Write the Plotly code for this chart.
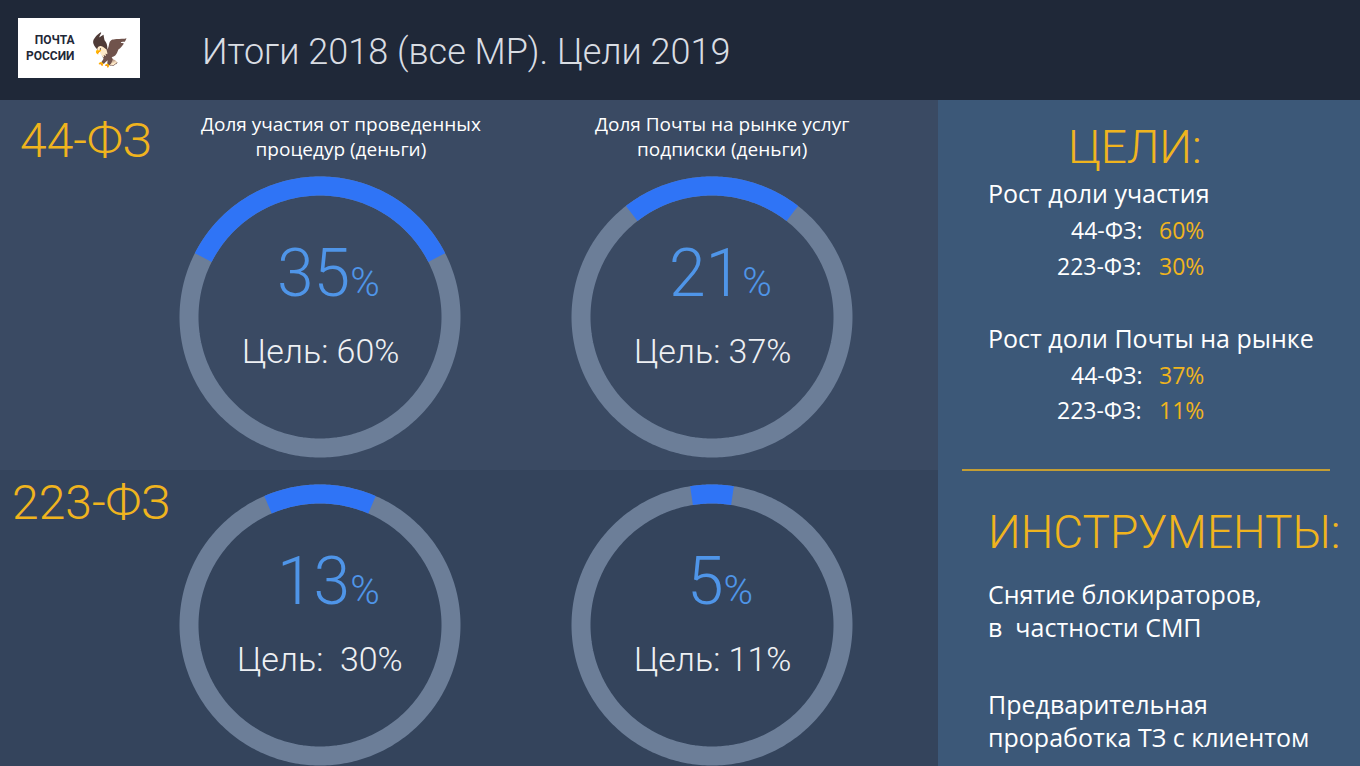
import numpy as np
import plotly.graph_objects as go

W, H = 1360, 766
actual = [35, 21, 13, 5]
targets = ["Цель: 60%", "Цель: 37%", "Цель:  30%", "Цель: 11%"]
chart_titles = ["Доля участия от проведенных<br>процедур (деньги)", "Доля Почты на рынке услуг<br>подписки (деньги)"]
laws = ["44-ФЗ", "223-ФЗ"]
goal_lines = [("Рост доли участия", None), ("44-ФЗ:", "60%"), ("223-ФЗ:", "30%"),
              ("Рост доли Почты на рынке", None), ("44-ФЗ:", "37%"), ("223-ФЗ:", "11%")]
tools = ["Снятие блокираторов,<br>в  частности СМП", "Предварительная<br>проработка ТЗ с клиентом"]

centers = [(320, 317), (712, 317), (320, 625), (712, 625)]
R = 131
GOLD = "#f0b41e"
LIGHT = "Roboto Light, Roboto"
fig = go.Figure()

shapes = [
    dict(type="rect", x0=0, x1=W, y0=0, y1=H, fillcolor="#2b3a52", line_width=0, layer="below"),
    dict(type="rect", x0=0, x1=938, y0=100, y1=470, fillcolor="#3a4a63", line_width=0, layer="below"),
    dict(type="rect", x0=0, x1=938, y0=470, y1=H, fillcolor="#34445c", line_width=0, layer="below"),
    dict(type="rect", x0=938, x1=W, y0=100, y1=H, fillcolor="#3c5878", line_width=0, layer="below"),
    dict(type="rect", x0=0, x1=W, y0=0, y1=100, fillcolor="#1f2838", line_width=0, layer="below"),
    dict(type="rect", x0=18, x1=140, y0=18, y1=78, fillcolor="white", line_width=0),
    dict(type="line", x0=962, x1=1330, y0=470, y1=470, line=dict(color=GOLD, width=1.5)),
]

for (cx, cy), v in zip(centers, actual):
    t = np.linspace(0, 2*np.pi, 361)
    fig.add_trace(go.Scatter(x=cx + R*np.sin(t), y=cy - R*np.cos(t), mode="lines",
                             line=dict(color="#6c7e98", width=19, simplify=False), hoverinfo="skip", showlegend=False))
    a = v/100*2*np.pi
    t = np.linspace(-a/2, a/2, 120)
    fig.add_trace(go.Scatter(x=cx + R*np.sin(t), y=cy - R*np.cos(t), mode="lines",
                             line=dict(color="#2f74f6", width=19, simplify=False), hoverinfo="skip", showlegend=False))

ann = []
def A(x, y, text, size, color="white", xanchor="left", family="Open Sans", weight=400, align=None):
    ann.append(dict(x=x, y=y, xref="x", yref="y", text=text, showarrow=False, xanchor=xanchor,
                    align=align or xanchor if xanchor != "right" else "right",
                    yanchor="middle", font=dict(size=size, color=color, family=family, weight=weight)))

A(200, 52, "Итоги 2018 (все МР). Цели 2019", 36, "#d9dde3", family=LIGHT, weight=300)
A(77, 48, "<b>ПОЧТА<br>РОССИИ</b>", 12, "#1f2838", xanchor="right", family="Roboto", align="left")
A(110, 48, "🦅", 32, "#1f2838", xanchor="center")
A(18, 140, laws[0], 48, GOLD, family=LIGHT, weight=300)
A(10, 502, laws[1], 48, GOLD, family=LIGHT, weight=300)
A(341, 136, chart_titles[0], 19, "white", xanchor="center")
A(722, 136, chart_titles[1], 19, "white", xanchor="center")
for (cx, cy), v, tg in zip(centers, actual, targets):
    A(cx + 8, cy - 44, f"{v}<span style='font-size:40px'>%</span>", 66, "#4f95e8", xanchor="center",
      family=LIGHT, weight=300)
    A(cx, cy + 34, tg, 34, "#eef0f3", xanchor="center", family=LIGHT, weight=300)

A(1135, 147, "ЦЕЛИ:", 46, GOLD, xanchor="center", family=LIGHT, weight=300)
ys = [193, 230, 266, 338, 375, 410]
for (lab, val), y in zip(goal_lines, ys):
    if val is None:
        A(986, y, lab, 25)
    else:
        A(1144, y, lab, 23, xanchor="right")
        A(1157, y, val, 23, GOLD)
A(986, 532, "ИНСТРУМЕНТЫ:", 46, GOLD, family=LIGHT, weight=300)
A(986, 610, tools[0], 25)
A(986, 720, tools[1], 25)

fig.update_layout(width=W, height=H, margin=dict(l=0, r=0, t=0, b=0),
                  paper_bgcolor="#2b3a52", plot_bgcolor="rgba(0,0,0,0)",
                  xaxis=dict(range=[0, W], visible=False, fixedrange=True),
                  yaxis=dict(range=[H, 0], visible=False, fixedrange=True),
                  shapes=shapes, annotations=ann)
fig.write_html("out.html", config={"displayModeBar": False},
               post_script="document.body.style.margin='0';document.body.style.overflow='hidden';")
